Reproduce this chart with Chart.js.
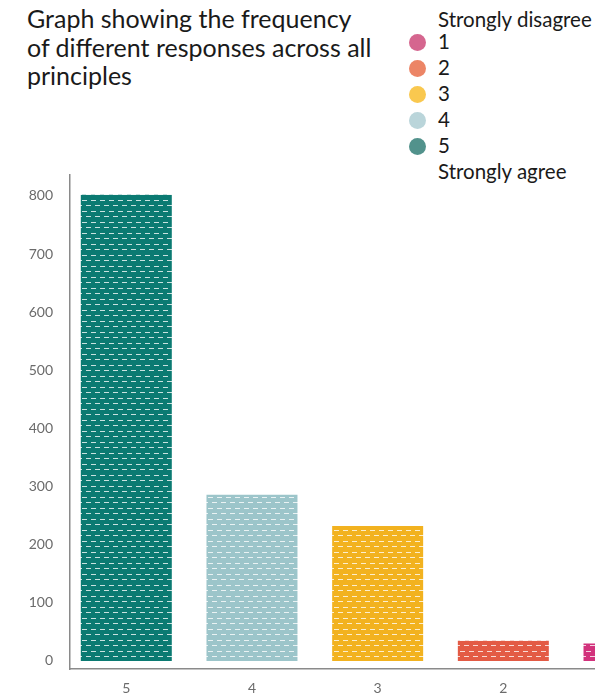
<!DOCTYPE html>
<html>
<head>
<meta charset="utf-8">
<script src="https://cdn.jsdelivr.net/npm/chart.js@4/dist/chart.umd.min.js"></script>
<style>
  html, body { margin: 0; padding: 0; width: 595px; height: 697px; overflow: hidden; background: #fff; }
  #wrap { position: absolute; left: 0; top: 0; width: 720px; height: 697px; }
  #title { position: absolute; left: 27px; top: 4px; font-family: Lato, sans-serif; font-size: 25px; line-height: 28.5px; color: #1a1a1a; margin: 0; font-weight: normal; white-space: nowrap; }
  #legend { position: absolute; left: 409px; top: 7px; font-family: Lato, sans-serif; font-size: 20.5px; color: #1a1a1a; }
  #legend .hdr { position: absolute; left: 29px; white-space: nowrap; }
  #legend .row { position: absolute; left: 0; white-space: nowrap; height: 26px; }
  #legend .dot { position: absolute; left: 0; top: 5px; width: 17px; height: 17px; border-radius: 50%; }
  #legend .lbl { position: absolute; left: 29px; top: 0; }
</style>
</head>
<body>
<div id="title">Graph showing the frequency<br>of different responses across all<br>principles</div>
<div id="legend"></div>
<div id="wrap"><canvas id="c" width="720" height="697"></canvas></div>
<script>
// ---- data ----
const categories = ['5', '4', '3', '2', '1'];
const counts = [802, 286, 232, 35, 30];
const yTicks = [0, 100, 200, 300, 400, 500, 600, 700, 800];
const legendLabels = ['1', '2', '3', '4', '5'];
const legendTop = 'Strongly disagree';
const legendBottom = 'Strongly agree';

// ---- styles ----
const barColors = ['#0b7a72', '#9cc5ca', '#f2b21f', '#e35b45', '#d2327c'];
const legendColors = ['#d5668f', '#ec8566', '#f9c84f', '#bad5da', '#52928c'];

function makePattern(color) {
  const c = document.createElement('canvas');
  c.width = 9; c.height = 11;
  const g = c.getContext('2d');
  g.fillStyle = color; g.fillRect(0, 0, 9, 11);
  g.fillStyle = 'rgba(255,255,255,0.78)';
  g.fillRect(1, 2, 5, 1);
  g.fillRect(5, 7, 5, 1);
  g.fillRect(-4, 7, 5, 1);
  return g.createPattern(c, 'repeat');
}

// legend (HTML)
const leg = document.getElementById('legend');
let html = '<div class="hdr" style="top:0">' + legendTop + '</div>';
legendLabels.forEach((l, i) => {
  html += '<div class="row" style="top:' + (22 + i * 26) + 'px"><div class="dot" style="background:' + legendColors[i] + '"></div><div class="lbl">' + l + '</div></div>';
});
html += '<div class="hdr" style="top:' + (22 + 5 * 26) + 'px">' + legendBottom + '</div>';
leg.innerHTML = html;

const points = counts.map((v, i) => ({ x: i, y: v }));

new Chart(document.getElementById('c'), {
  type: 'bar',
  data: {
    datasets: [{
      data: points,
      backgroundColor: barColors.map(makePattern),
      borderWidth: 0,
      categoryPercentage: 1,
      barPercentage: 0.724
    }]
  },
  options: {
    responsive: false,
    animation: false,
    devicePixelRatio: 1,
    layout: { padding: { top: 175, left: 0, right: 0, bottom: 0 } },
    plugins: { legend: { display: false }, tooltip: { enabled: false }, title: { display: false } },
    scales: {
      x: {
        type: 'linear',
        offset: false,
        min: -0.448,
        max: 4.724,
        afterBuildTicks: s => { s.ticks = categories.map((_, i) => ({ value: i })); },
        afterFit: s => { s.height = 28; },
        grid: { display: false, drawTicks: false, offset: false },
        border: { display: true, color: '#8a8a8a', width: 1.5 },
        ticks: {
          autoSkip: false, maxRotation: 0, padding: 11,
          color: '#6b6b6b', font: { family: 'Lato', size: 14 },
          callback: v => categories[Math.round(v)]
        }
      },
      y: {
        min: -13.8,
        max: 836,
        afterBuildTicks: s => { s.ticks = yTicks.map(v => ({ value: v })); },
        afterFit: s => { s.width = 70; },
        grid: { display: false, drawTicks: false },
        border: { display: true, color: '#8a8a8a', width: 1.5 },
        ticks: { padding: 17, color: '#6b6b6b', font: { family: 'Lato', size: 14 } }
      }
    }
  }
});
</script>
</body>
</html>
